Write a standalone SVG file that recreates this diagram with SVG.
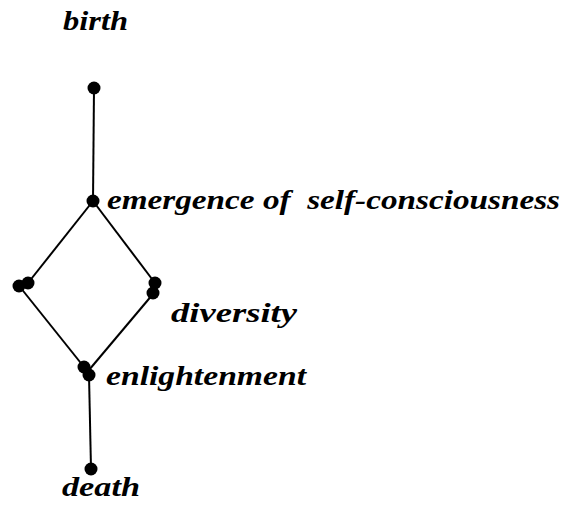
<svg xmlns="http://www.w3.org/2000/svg" width="564" height="506" viewBox="0 0 564 506">
<style>
.lbl{font-family:"Liberation Serif","Times New Roman",serif;font-style:italic;font-weight:bold;font-size:28px;fill:#000}
.edge{stroke:#000;stroke-width:2;fill:none}
.dot{fill:#000}
</style>
<rect width="564" height="506" fill="#fff"/>
<g id="connectors">
<line class="edge" x1="94" y1="88" x2="93" y2="201"/>
<line class="edge" x1="93" y1="201" x2="28" y2="283"/>
<line class="edge" x1="93" y1="201" x2="155" y2="283"/>
<line class="edge" x1="20" y1="287" x2="84" y2="367"/>
<line class="edge" x1="153" y1="294" x2="89" y2="370"/>
<line class="edge" x1="89" y1="375" x2="91" y2="469"/>
</g>
<g id="birth">
<circle class="dot" cx="94" cy="88" r="6.5"/>
<text class="lbl" x="63" y="30" textLength="65" lengthAdjust="spacingAndGlyphs">birth</text>
</g>
<g id="emergence">
<circle class="dot" cx="93" cy="201" r="6.5"/>
<text class="lbl" x="107" y="209" textLength="453" lengthAdjust="spacingAndGlyphs" xml:space="preserve">emergence of  self-consciousness</text>
</g>
<g id="left">
<circle class="dot" cx="19" cy="286" r="6.5"/>
<circle class="dot" cx="28" cy="283" r="6.5"/>
</g>
<g id="diversity">
<circle class="dot" cx="155" cy="283" r="6.5"/>
<circle class="dot" cx="153" cy="293" r="6.5"/>
<text class="lbl" x="171" y="322" textLength="126" lengthAdjust="spacingAndGlyphs">diversity</text>
</g>
<g id="enlightenment">
<circle class="dot" cx="84" cy="367" r="6.5"/>
<circle class="dot" cx="89" cy="375" r="6.5"/>
<text class="lbl" x="106" y="385" textLength="200" lengthAdjust="spacingAndGlyphs">enlightenment</text>
</g>
<g id="death">
<circle class="dot" cx="91" cy="469" r="6.5"/>
<text class="lbl" x="62" y="496" textLength="78" lengthAdjust="spacingAndGlyphs">death</text>
</g>
</svg>
